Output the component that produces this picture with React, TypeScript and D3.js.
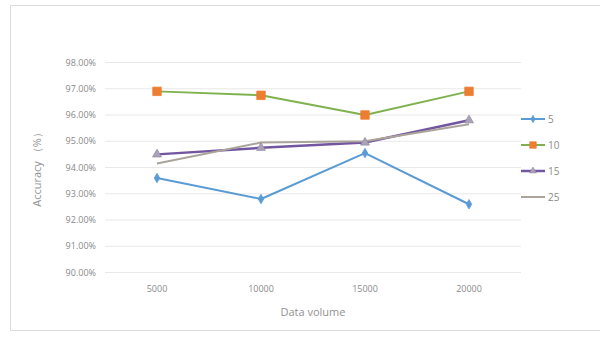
import React from "react";
import * as d3 from "d3";

const categories = ["5000", "10000", "15000", "20000"];
const seriesNames = ["5", "10", "15", "25"];
const values5 = [93.6, 92.8, 94.55, 92.6];
const values10 = [96.9, 96.75, 96.0, 96.9];
const values15 = [94.5, 94.75, 94.95, 95.8];
const values25 = [94.15, 94.95, 95.0, 95.65];
const yTicks = [90, 91, 92, 93, 94, 95, 96, 97, 98];

const W = 600;
const H = 338;
const FONT = "'Open Sans', 'Liberation Sans', sans-serif";

type Series = {
  name: string;
  values: number[];
  line: string;
  width: number;
  marker: "diamond" | "square" | "triangle" | "none";
  markerFill: string;
  markerSize: number;
};

const series: Series[] = [
  { name: seriesNames[0], values: values5, line: "#5b9bd5", width: 2, marker: "diamond", markerFill: "#5b9bd5", markerSize: 26 },
  { name: seriesNames[1], values: values10, line: "#7fb24f", width: 2, marker: "square", markerFill: "#ed7d31", markerSize: 72 },
  { name: seriesNames[2], values: values15, line: "#7356a0", width: 2.5, marker: "triangle", markerFill: "#aaa3b6", markerSize: 34 },
  { name: seriesNames[3], values: values25, line: "#aaa49a", width: 2, marker: "none", markerFill: "#aaa49a", markerSize: 0 },
];

const symbolFor = (m: Series["marker"]) =>
  m === "diamond" ? d3.symbolDiamond : m === "square" ? d3.symbolSquare : d3.symbolTriangle;

export default function App() {
  const x = d3.scaleBand<string>().domain(categories).range([105, 521]).padding(0);
  const y = d3.scaleLinear().domain([90, 98]).range([272.5, 62.5]);
  const cx = (c: string) => (x(c) ?? 0) + x.bandwidth() / 2;

  const line = d3
    .line<number>()
    .x((_, i) => cx(categories[i]))
    .y((v) => y(v));

  const legendY = d3.scalePoint<string>().domain(seriesNames).range([119, 197]);

  return (
    <svg
      width={W}
      height={H}
      style={{ position: "absolute", left: 0, top: 0, background: "#fff" }}
      fontFamily={FONT}
    >
      {/* chart frame */}
      <path d={`M${W},5.5 H10.5 V330.5 H${W}`} fill="none" stroke="#dcdcdc" strokeWidth={1} />

      {/* horizontal gridlines */}
      {yTicks.map((t) => (
        <line key={t} x1={105} x2={521} y1={y(t)} y2={y(t)} stroke="#e8e8e8" strokeWidth={1} />
      ))}

      {/* y tick labels */}
      {yTicks.map((t) => (
        <text key={t} x={96} y={y(t)} dy="0.35em" textAnchor="end" fontSize={9} fill="#8a8a8a">
          {t.toFixed(2)}%
        </text>
      ))}

      {/* x tick labels */}
      {categories.map((c) => (
        <text key={c} x={cx(c)} y={292} textAnchor="middle" fontSize={9} fill="#8a8a8a">
          {c}
        </text>
      ))}

      {/* axis titles */}
      <text x={313} y={316} textAnchor="middle" fontSize={11} fill="#939393">
        Data volume
      </text>
      <text
        transform={`translate(41,${167}) rotate(-90)`}
        textAnchor="middle"
        fontSize={11}
        fill="#939393"
      >
        Accuracy （%）
      </text>

      {/* series lines */}
      {series.map((s) => (
        <path key={s.name} d={line(s.values) ?? ""} fill="none" stroke={s.line} strokeWidth={s.width} strokeLinejoin="round" />
      ))}

      {/* markers */}
      {series.map((s) =>
        s.marker === "none"
          ? null
          : s.values.map((v, i) => (
              <path
                key={`${s.name}-${i}`}
                d={d3.symbol().type(symbolFor(s.marker)).size(s.markerSize)() ?? ""}
                transform={`translate(${cx(categories[i])},${y(v)})`}
                fill={s.markerFill}
                stroke={s.marker === "triangle" ? "#968ca8" : s.markerFill}
                strokeWidth={0.8}
              />
            ))
      )}

      {/* legend */}
      {series.map((s) => {
        const ly = legendY(s.name) ?? 0;
        return (
          <g key={s.name}>
            <line x1={521} x2={545} y1={ly} y2={ly} stroke={s.line} strokeWidth={s.width} />
            {s.marker !== "none" && (
              <path
                d={d3.symbol().type(symbolFor(s.marker)).size(s.markerSize * 0.6)() ?? ""}
                transform={`translate(533,${ly})`}
                fill={s.markerFill}
                stroke={s.marker === "triangle" ? "#968ca8" : s.markerFill}
                strokeWidth={0.6}
              />
            )}
            <text x={548} y={ly} dy="0.35em" fontSize={10} fill="#8a8a8a">
              {s.name}
            </text>
          </g>
        );
      })}
    </svg>
  );
}
